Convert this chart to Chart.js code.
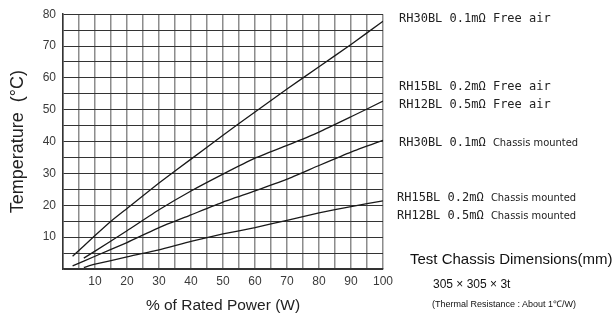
<!DOCTYPE html>
<html>
<head>
<meta charset="utf-8">
<script src="https://cdn.jsdelivr.net/npm/chart.js@4.4.1/dist/chart.umd.min.js"></script>
<style>
	html, body { margin: 0; padding: 0; background: #fff; }
	#wrap { position: relative; width: 614px; height: 315px; }
	#chart { position: absolute; left: 0; top: 0; }
	.lbl { position: absolute; white-space: pre; color: #222; font-family: 'DejaVu Sans Mono', monospace; font-size: 12px; line-height: 14px; }
	.small { font-family: 'Liberation Sans Narrow', 'DejaVu Sans Condensed', sans-serif; font-size: 11px; }
	.note { position: absolute; white-space: pre; color: #111; font-family: 'Liberation Sans', Arial, sans-serif; }
</style>
</head>
<body>
<div id="wrap">
	<canvas id="chart" width="614" height="315"></canvas>
	<div class="lbl" style="left:399px; top:11px;">RH30BL 0.1mΩ Free air</div>
	<div class="lbl" style="left:399px; top:79px;">RH15BL 0.2mΩ Free air</div>
	<div class="lbl" style="left:399px; top:97px;">RH12BL 0.5mΩ Free air</div>
	<div class="lbl" style="left:399px; top:135px;">RH30BL 0.1mΩ <span class="small">Chassis mounted</span></div>
	<div class="lbl" style="left:397px; top:190px;">RH15BL 0.2mΩ <span class="small">Chassis mounted</span></div>
	<div class="lbl" style="left:397px; top:208px;">RH12BL 0.5mΩ <span class="small">Chassis mounted</span></div>
	<div class="note" style="left:410px; top:250px; font-size:15px;">Test Chassis Dimensions(mm)</div>
	<div class="note" style="left:433px; top:277px; font-size:12px;">305 × 305 × 3t</div>
	<div class="note" style="left:432px; top:297px; font-size:9px;">(Thermal Resistance : About 1℃/W)</div>
</div>
<script>
// % of rated power / temperature rise
const rh30FreeX = [3, 10, 15, 20, 30, 40, 50, 60, 70, 80, 90, 100];
const rh30FreeY = [4, 10.5, 15, 19, 27, 34.5, 42, 49.3, 56.5, 63.5, 70.5, 77.8];

const rh15FreeX = [6.5, 10, 20, 30, 40, 50, 60, 70, 80, 90, 100];
const rh15FreeY = [3.4, 5.6, 12, 18.6, 24.5, 29.8, 34.8, 38.8, 43, 47.8, 52.7];

const rh30ChassisX = [3, 10, 20, 30, 40, 50, 60, 70, 80, 90, 100];
const rh30ChassisY = [1, 4, 8.3, 13, 17, 21, 24.5, 28.2, 32.5, 36.7, 40.4];

const rh15ChassisX = [6.5, 10, 20, 30, 40, 50, 60, 70, 80, 90, 100];
const rh15ChassisY = [0.5, 1.5, 3.8, 6, 8.7, 11, 13, 15.3, 17.6, 19.6, 21.4];

const xTicks = [10, 20, 30, 40, 50, 60, 70, 80, 90, 100];
const yTicks = [10, 20, 30, 40, 50, 60, 70, 80];

const toPoints = (xs, ys) => xs.map((x, i) => ({ x: x, y: ys[i] }));

const lineSet = (label, xs, ys) => ({
	label: label,
	data: toPoints(xs, ys),
	borderColor: '#1a1a1a',
	borderWidth: 1.3,
	pointRadius: 0,
	tension: 0.15,
	fill: false,
});

new Chart(document.getElementById('chart'), {
	type: 'line',
	data: {
		datasets: [
			lineSet('RH30BL Free air', rh30FreeX, rh30FreeY),
			lineSet('RH15BL / RH12BL Free air', rh15FreeX, rh15FreeY),
			lineSet('RH30BL Chassis mounted', rh30ChassisX, rh30ChassisY),
			lineSet('RH15BL / RH12BL Chassis mounted', rh15ChassisX, rh15ChassisY),
		],
	},
	options: {
		responsive: false,
		animation: false,
		layout: { padding: { left: 0, right: 231, top: 14, bottom: 0 } },
		plugins: { legend: { display: false }, tooltip: { enabled: false } },
		scales: {
			x: {
				type: 'linear',
				min: 0,
				max: 100,
				afterFit: (s) => { s.height = 46; },
				grid: { color: '#8c8c8c', lineWidth: 1.5, drawTicks: false },
				border: { color: '#333', width: 1.5 },
				ticks: {
					stepSize: 5,
					autoSkip: false,
					maxRotation: 0,
					minRotation: 0,
					padding: 5,
					color: '#3a3a3a',
					font: { family: 'Liberation Sans', size: 12 },
					callback: (v) => (xTicks.includes(v) ? v : ''),
				},
				title: {
					display: true,
					text: '% of Rated Power (W)',
					color: '#222',
					font: { family: 'Liberation Sans', size: 15.5 },
					padding: { top: 8, bottom: 0 },
				},
			},
			y: {
				min: 0,
				max: 80,
				afterFit: (s) => { s.width = 63; },
				grid: { color: '#333', lineWidth: 1, drawTicks: false },
				border: { color: '#333', width: 1.5 },
				ticks: {
					stepSize: 5,
					autoSkip: false,
					padding: 7,
					color: '#3a3a3a',
					font: { family: 'Liberation Sans', size: 12 },
					callback: (v) => (yTicks.includes(v) ? v : ''),
				},
				title: {
					display: true,
					text: 'Temperature  (°C)',
					color: '#222',
					font: { family: 'Liberation Sans', size: 18 },
					padding: { top: 7, bottom: 0 },
				},
			},
		},
	},
});
</script>
</body>
</html>
